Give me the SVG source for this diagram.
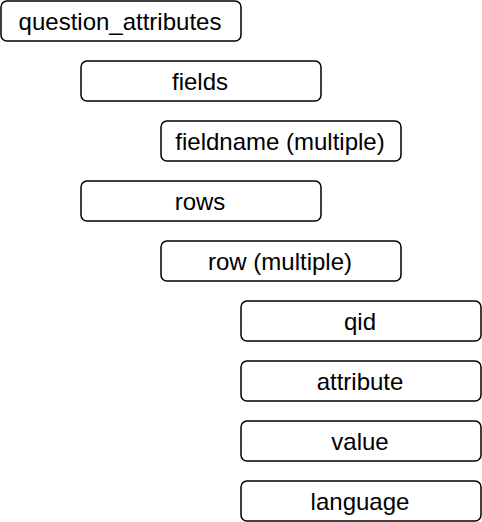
<svg xmlns="http://www.w3.org/2000/svg" width="482" height="522" viewBox="0 0 482 522">
<style>
.box{fill:#ffffff;stroke:#000000;stroke-width:1.5}
.lbl{font-family:"Liberation Sans",Arial,sans-serif;font-size:24px;fill:#000000;text-anchor:middle}
</style>
<rect width="482" height="522" fill="#ffffff"/>
<g id="connectors"></g>
<g id="n_question_attributes"><rect class="box" x="1" y="1" width="240" height="40" rx="6"/><text class="lbl" x="120" y="29.5">question_attributes</text></g>
<g id="n_fields"><rect class="box" x="81" y="61" width="240" height="40" rx="6"/><text class="lbl" x="200" y="89.5">fields</text></g>
<g id="n_fieldname"><rect class="box" x="161" y="121" width="240" height="40" rx="6"/><text class="lbl" x="280" y="149.5">fieldname (multiple)</text></g>
<g id="n_rows"><rect class="box" x="81" y="181" width="240" height="40" rx="6"/><text class="lbl" x="200" y="209.5">rows</text></g>
<g id="n_row"><rect class="box" x="161" y="241" width="240" height="40" rx="6"/><text class="lbl" x="280" y="269.5">row (multiple)</text></g>
<g id="n_qid"><rect class="box" x="241" y="301" width="240" height="40" rx="6"/><text class="lbl" x="360" y="329.5">qid</text></g>
<g id="n_attribute"><rect class="box" x="241" y="361" width="240" height="40" rx="6"/><text class="lbl" x="360" y="389.5">attribute</text></g>
<g id="n_value"><rect class="box" x="241" y="421" width="240" height="40" rx="6"/><text class="lbl" x="360" y="449.5">value</text></g>
<g id="n_language"><rect class="box" x="241" y="481" width="240" height="40" rx="6"/><text class="lbl" x="360" y="509.5">language</text></g>
</svg>
